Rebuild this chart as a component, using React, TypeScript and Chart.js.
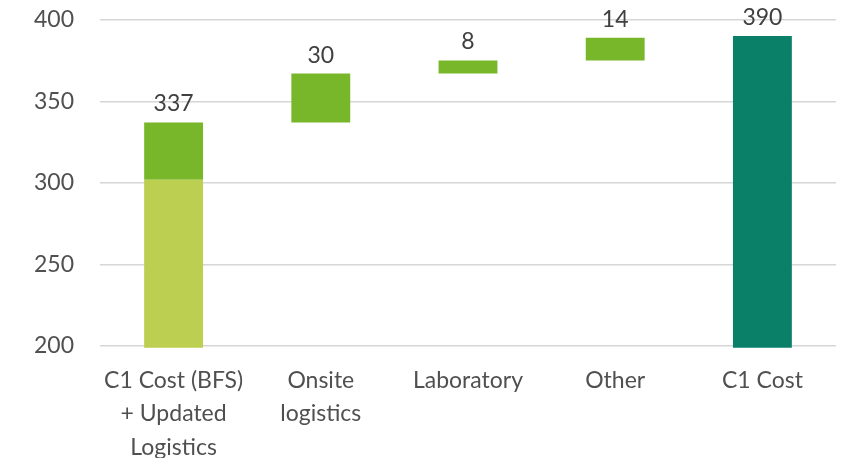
import React, { useEffect, useRef } from "react";
import { Chart, registerables } from "chart.js";

Chart.register(...registerables);

const categories: (string | string[])[] = [
  ["C1 Cost (BFS)", "+ Updated", "Logistics"],
  ["Onsite", "logistics"],
  "Laboratory",
  "Other",
  "C1 Cost",
];
// floating segments [start, end]
const baseSegments: ([number, number] | null)[] = [
  [199, 302],
  [337, 367],
  [367, 375],
  [375, 389],
  [199, 390],
];
const upperSegments: ([number, number] | null)[] = [[302, 337], null, null, null, null];
const valueLabels: string[] = ["337", "30", "8", "14", "390"];
const baseColors = ["#BDCF50", "#78B72A", "#78B72A", "#78B72A", "#0B8068"];
const upperColors = ["#78B72A", "#78B72A", "#78B72A", "#78B72A", "#78B72A"];
const yTicks = { min: 200, max: 400, step: 50 };

const FONT = "Lato, 'Open Sans', sans-serif";

const labelPlugin = {
  id: "topLabels",
  afterDatasetsDraw(chart: any) {
    const ctx = chart.ctx;
    const metaA = chart.getDatasetMeta(0);
    const metaB = chart.getDatasetMeta(1);
    ctx.save();
    ctx.font = `23px ${FONT}`;
    ctx.fillStyle = "#404040";
    ctx.textAlign = "center";
    ctx.textBaseline = "bottom";
    valueLabels.forEach((lab, i) => {
      const a = metaA.data[i];
      const b = metaB.data[i];
      let top = a ? a.y : Infinity;
      if (upperSegments[i] && b) top = Math.min(top, b.y);
      ctx.fillText(lab, a.x, top - 7);
    });
    ctx.restore();
  },
};

const SHIFT = 20;

export default function App() {
  const ref = useRef<HTMLCanvasElement | null>(null);
  useEffect(() => {
    if (!ref.current) return;
    const chart = new Chart(ref.current, {
      type: "bar",
      data: {
        labels: categories,
        datasets: [
          {
            data: baseSegments as any,
            backgroundColor: baseColors,
            barPercentage: 0.4,
            categoryPercentage: 1,
            grouped: false,
            clip: false as any,
          },
          {
            data: upperSegments as any,
            backgroundColor: upperColors,
            barPercentage: 0.4,
            categoryPercentage: 1,
            grouped: false,
            clip: false as any,
          },
        ],
      },
      options: {
        animation: false,
        responsive: false,
        maintainAspectRatio: false,
        layout: { padding: { top: 0, right: 10, left: 0, bottom: 0 } },
        plugins: { legend: { display: false }, tooltip: { enabled: false } },
        scales: {
          x: {
            grid: { display: false },
            border: { display: false },
            ticks: {
              color: "#505050",
              font: { family: FONT, size: 23, lineHeight: 1.45 },
              padding: 10,
              maxRotation: 0,
              autoSkip: false,
            },
            afterFit: (s: any) => {
              s.height = 112;
            },
          },
          y: {
            min: yTicks.min,
            max: yTicks.max,
            grid: { color: "#D6D6D6", lineWidth: 1.5, drawTicks: false },
            border: { display: false },
            ticks: {
              stepSize: yTicks.step,
              color: "#505050",
              font: { family: FONT, size: 23 },
              padding: 26,
            },
            afterFit: (s: any) => {
              s.width = 100;
            },
          },
        },
      },
      plugins: [labelPlugin],
    });
    return () => chart.destroy();
  }, []);
  return (
    <div style={{ position: "fixed", left: 0, top: 0, width: 846, height: 458, background: "#fff", overflow: "hidden" }}>
      <canvas
        ref={ref}
        width={846}
        height={458 + SHIFT}
        style={{ position: "absolute", left: 0, top: -SHIFT }}
      />
    </div>
  );
}
